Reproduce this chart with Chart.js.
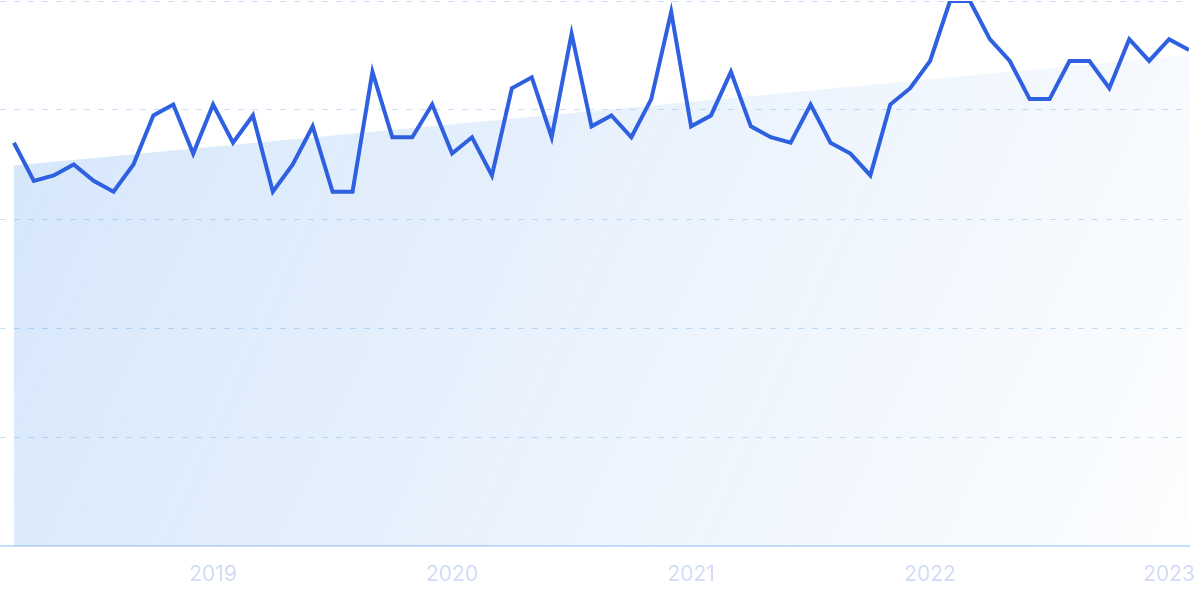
<!DOCTYPE html>
<html>
<head>
<meta charset="utf-8">
<script src="https://cdn.jsdelivr.net/npm/chart.js@4.4.1/dist/chart.umd.min.js"></script>
<style>
    html, body { margin: 0; padding: 0; background: #ffffff; }
    #wrap { width: 1200px; height: 599px; position: relative; }
</style>
</head>
<body>
<div id="wrap"><canvas id="trendChart"></canvas></div>
<script>
// Mois (mars 2018 -> février 2023)
const months = [
    '2018-03', '2018-04', '2018-05', '2018-06', '2018-07', '2018-08', '2018-09', '2018-10', '2018-11', '2018-12',
    '2019-01', '2019-02', '2019-03', '2019-04', '2019-05', '2019-06', '2019-07', '2019-08', '2019-09', '2019-10', '2019-11', '2019-12',
    '2020-01', '2020-02', '2020-03', '2020-04', '2020-05', '2020-06', '2020-07', '2020-08', '2020-09', '2020-10', '2020-11', '2020-12',
    '2021-01', '2021-02', '2021-03', '2021-04', '2021-05', '2021-06', '2021-07', '2021-08', '2021-09', '2021-10', '2021-11', '2021-12',
    '2022-01', '2022-02', '2022-03', '2022-04', '2022-05', '2022-06', '2022-07', '2022-08', '2022-09', '2022-10', '2022-11', '2022-12',
    '2023-01', '2023-02'
];

// Intérêt de recherche (0-100)
const interest = [
    74, 67, 68, 70, 67, 65, 70, 79, 81, 72,
    81, 74, 79, 65, 70, 77, 65, 65, 87, 75, 75, 81,
    72, 75, 68, 84, 86, 75, 94, 77, 79, 75, 82, 98,
    77, 79, 87, 77, 75, 74, 81, 74, 72, 68, 81, 84,
    89, 100, 100, 93, 89, 82, 82, 89, 89, 84, 93, 89,
    93, 91
];

// Tendance (début / fin)
const trendStart = 69.8;
const trendEnd = 90.1;

// Repères des années
const yearLabels = ['2019', '2020', '2021', '2022', '2023'];
const yearMonths = ['2019-01', '2020-01', '2021-01', '2022-01', '2023-01'];

const yearTicks = yearMonths.map(m => months.indexOf(m));

document.addEventListener('DOMContentLoaded', () => {
    const ctx = document.getElementById('trendChart');

    // Dégradé de la zone de tendance
    function trendFill(context) {
        const area = context.chart.chartArea;
        if (!area) return 'rgba(60, 140, 235, 0.2)';
        const g = context.chart.ctx.createLinearGradient(area.left, area.top, area.right, area.bottom);
        g.addColorStop(0, 'rgba(60, 140, 235, 0.22)');
        g.addColorStop(0.5, 'rgba(60, 140, 235, 0.11)');
        g.addColorStop(1, 'rgba(60, 140, 235, 0.01)');
        return g;
    }

    new Chart(ctx, {
        type: 'line',
        data: {
            datasets: [
                {
                    data: interest.map((v, i) => ({ x: i, y: v })),
                    borderColor: '#2e60e0',
                    borderWidth: 4,
                    pointRadius: 0,
                    tension: 0,
                    fill: false,
                    order: 0
                },
                {
                    data: [
                        { x: 0, y: trendStart },
                        { x: months.length - 1, y: trendEnd }
                    ],
                    borderWidth: 0,
                    borderColor: 'rgba(0,0,0,0)',
                    backgroundColor: trendFill,
                    pointRadius: 0,
                    fill: 'origin',
                    order: 1
                }
            ]
        },
        options: {
            responsive: true,
            maintainAspectRatio: false,
            animation: false,
            layout: {
                padding: { top: 1, right: 11, bottom: 0, left: 0 }
            },
            plugins: {
                legend: { display: false },
                tooltip: { enabled: false }
            },
            scales: {
                x: {
                    type: 'linear',
                    min: -0.7,
                    max: months.length - 1,
                    grid: { display: false, drawTicks: false },
                    border: { display: true, color: 'rgba(200, 222, 250, 1)', width: 2 },
                    afterBuildTicks: axis => {
                        axis.ticks = yearTicks.map(v => ({ value: v }));
                    },
                    afterFit: axis => {
                        axis.height = 53;
                        axis.paddingLeft = 0;
                        axis.paddingRight = 0;
                    },
                    ticks: {
                        autoSkip: false,
                        maxRotation: 0,
                        padding: 16,
                        color: '#d3dcf6',
                        font: { family: 'Inter', size: 21 },
                        callback: value => yearLabels[yearTicks.indexOf(value)]
                    }
                },
                y: {
                    min: 0,
                    max: 100,
                    ticks: { display: false, stepSize: 20 },
                    grid: {
                        drawTicks: false,
                        lineWidth: 1,
                        color: c => c.tick.value === 0 ? 'rgba(0,0,0,0)' : 'rgba(160, 205, 245, 0.6)'
                    },
                    border: { display: false, dash: [6, 8] }
                }
            }
        }
    });
});
</script>
</body>
</html>
